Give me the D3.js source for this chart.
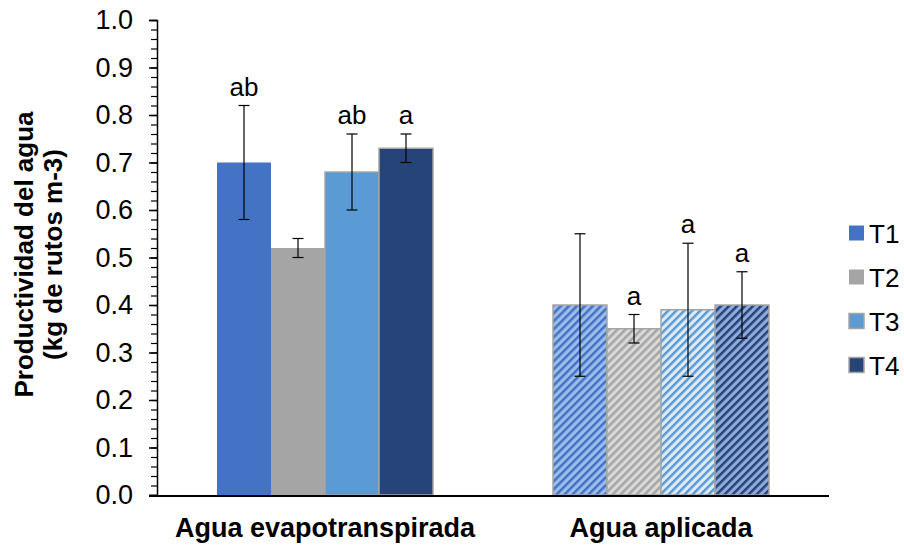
<!DOCTYPE html>
<html>
<head>
<meta charset="utf-8">
<script src="https://cdn.jsdelivr.net/npm/d3@7"></script>
<style>
  body { margin: 0; background: #fff; }
  svg text { font-family: Arial, "Liberation Sans", sans-serif; fill: #000; }
</style>
</head>
<body>
<script>
// data
var categories = ["Agua evapotranspirada", "Agua aplicada"];
var series = ["T1", "T2", "T3", "T4"];
var values = [
    [0.70, 0.52, 0.68, 0.73],
    [0.40, 0.35, 0.39, 0.40]
];
var errors = [
    [0.12, 0.02, 0.08, 0.03],
    [0.15, 0.03, 0.14, 0.07]
];
var letters = [
    ["ab", "", "ab", "a"],
    ["", "a", "a", "a"]
];
var yTicks = [0, 0.1, 0.2, 0.3, 0.4, 0.5, 0.6, 0.7, 0.8, 0.9, 1.0];

var colors = ["#4472C4", "#A5A5A5", "#5B9BD5", "#264478"];
var lightBg = ["#9DBDEB", "#D9D9D9", "#DEEBF7", "#8FAADC"];

var w = 904, h = 548;
var mLeft = 157, mRight = 829, mTop = 20, mBottom = 495;

var svg = d3.select("body").append("svg")
    .attr("width", w).attr("height", h);

// hatch patterns for second group (wide upward diagonal)
var defs = svg.append("defs");
series.forEach(function(s, i) {
    var p = defs.append("pattern")
        .attr("id", "hatch" + i)
        .attr("patternUnits", "userSpaceOnUse")
        .attr("width", 5.66).attr("height", 8)
        .attr("patternTransform", "rotate(45)");
    p.append("rect").attr("width", 5.66).attr("height", 8).attr("fill", lightBg[i]);
    p.append("rect").attr("x", 0).attr("width", 2.5).attr("height", 8).attr("fill", colors[i]);
});

var x0 = d3.scaleBand().domain(categories).range([mLeft, mRight]).paddingInner(0).paddingOuter(0);
var x1 = d3.scaleBand().domain(series).range([0, 216]);
var y = d3.scaleLinear().domain([0, 1]).range([mBottom, mTop]);

function groupStart(c) {
    return x0(c) + x0.bandwidth() / 2 - 108;
}

// bars
categories.forEach(function(c, ci) {
    var g = svg.append("g").attr("transform", "translate(" + groupStart(c) + ",0)");
    var d = series.map(function(s, si) {
        return { s: s, si: si, v: values[ci][si], e: errors[ci][si], l: letters[ci][si] };
    });

    g.selectAll("rect.bar").data(d).enter().append("rect")
        .attr("class", "bar")
        .attr("x", function(d) { return x1(d.s); })
        .attr("y", function(d) { return y(d.v); })
        .attr("width", x1.bandwidth())
        .attr("height", function(d) { return y(0) - y(d.v); })
        .attr("fill", function(d) { return ci == 0 ? colors[d.si] : "url(#hatch" + d.si + ")"; })
        .attr("stroke", function(d) { return (ci == 1 || d.si >= 2) ? "#A5A5A5" : "none"; })
        .attr("stroke-width", 1.5);

    // error bars
    var eb = g.selectAll("g.err").data(d).enter().append("g").attr("class", "err")
        .attr("transform", function(d) { return "translate(" + (x1(d.s) + x1.bandwidth() / 2) + ",0)"; });
    eb.append("line")
        .attr("y1", function(d) { return y(d.v + d.e); })
        .attr("y2", function(d) { return y(d.v - d.e); })
        .attr("stroke", "#000").attr("stroke-width", 1.2);
    eb.append("line")
        .attr("x1", -5.5).attr("x2", 5.5)
        .attr("y1", function(d) { return y(d.v + d.e); })
        .attr("y2", function(d) { return y(d.v + d.e); })
        .attr("stroke", "#000").attr("stroke-width", 1.2);
    eb.append("line")
        .attr("x1", -5.5).attr("x2", 5.5)
        .attr("y1", function(d) { return y(d.v - d.e); })
        .attr("y2", function(d) { return y(d.v - d.e); })
        .attr("stroke", "#000").attr("stroke-width", 1.2);

    // significance letters
    eb.append("text")
        .attr("y", function(d) { return y(d.v + d.e) - 10; })
        .attr("text-anchor", "middle")
        .style("font-size", "26px")
        .text(function(d) { return d.l; });
});

// y axis with minor ticks
var minor = d3.range(0, 1.0001, 0.02);
svg.append("g")
    .attr("transform", "translate(" + mLeft + ",0)")
    .call(d3.axisLeft(y).tickValues(minor).tickSize(6).tickFormat(""))
    .call(function(g) { g.select(".domain").remove(); })
    .selectAll("line").attr("stroke", "#000").attr("stroke-width", 1.2);

var yAxis = svg.append("g")
    .attr("transform", "translate(" + mLeft + ",0)")
    .call(d3.axisLeft(y).tickValues(yTicks).tickSize(8).tickPadding(16).tickFormat(d3.format(".1f")));
yAxis.select(".domain").attr("stroke", "#000").attr("stroke-width", 1.5);
yAxis.selectAll("line").attr("stroke", "#000").attr("stroke-width", 1.5);
yAxis.selectAll("text").style("font-size", "27px").style("font-family", "Arial, 'Liberation Sans', sans-serif").attr("fill", "#000");

// x axis
svg.append("line")
    .attr("x1", mLeft - 8).attr("x2", mRight)
    .attr("y1", y(0) + 1).attr("y2", y(0) + 1)
    .attr("stroke", "#000").attr("stroke-width", 2);

svg.selectAll("text.cat").data(categories).enter().append("text")
    .attr("class", "cat")
    .attr("x", function(d) { return x0(d) + x0.bandwidth() / 2; })
    .attr("y", 537)
    .attr("text-anchor", "middle")
    .style("font-size", "27px").style("font-weight", "bold")
    .text(function(d) { return d; });

// y title
var yt = svg.append("text")
    .attr("transform", "translate(33," + ((mBottom + mTop) / 2 - 3) + ") rotate(-90)")
    .attr("text-anchor", "middle")
    .style("font-size", "26px").style("font-weight", "bold");
yt.append("tspan").attr("x", 0).attr("dy", 0).text("Productividad del agua");
yt.append("tspan").attr("x", 0).attr("dy", 29).text("(kg de rutos m-3)");

// legend
var lg = svg.selectAll("g.leg").data(series).enter().append("g")
    .attr("class", "leg")
    .attr("transform", function(d, i) { return "translate(849," + (233 + i * 44) + ")"; });
lg.append("rect")
    .attr("x", 0).attr("y", -7.5).attr("width", 15).attr("height", 15)
    .attr("fill", function(d, i) { return colors[i]; })
    .attr("stroke", function(d, i) { return i >= 2 ? "#A5A5A5" : "none"; })
    .attr("stroke-width", 1.5);
lg.append("text")
    .attr("x", 20).attr("y", 9.5)
    .style("font-size", "26px")
    .text(function(d) { return d; });
</script>
</body>
</html>
